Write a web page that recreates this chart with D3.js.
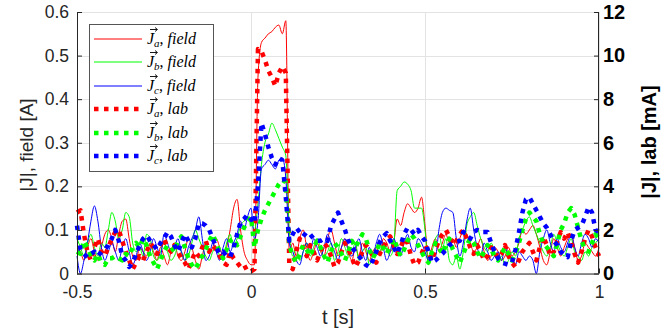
<!DOCTYPE html>
<html><head><meta charset="utf-8">
<script src="https://cdn.jsdelivr.net/npm/d3@7"></script>
<style>body{margin:0;background:#fff;} svg{display:block;font-family:"Liberation Sans",Arial,sans-serif;}</style>
</head><body><svg id="c" width="672" height="335"></svg>
<script>
const tStart = -0.5, tStep = 0.01;
const xTicks = [-0.5, 0, 0.5, 1];
const xTickLabels = ["-0.5", "0", "0.5", "1"];
const yLeftTicks = [0, 0.1, 0.2, 0.3, 0.4, 0.5, 0.6];
const yRightTicks = [0, 2, 4, 6, 8, 10, 12];
const seriesSubs = ["a", "b", "c", "a", "b", "c"];
const seriesKinds = ["field", "field", "field", "lab", "lab", "lab"];
// field currents [A]
const fieldA = [0.06,0.05,0.03,0.06,0.08,0.05,0.03,0.06,0.09,0.10,
0.08,0.05,0.09,0.12,0.125,0.08,0.04,0.03,0.06,0.05,
0.04,0.07,0.05,0.03,0.06,0.04,0.02,0.05,0.07,0.04,
0.03,0.05,0.08,0.06,0.03,0.01,0.04,0.07,0.05,0.06,
0.08,0.06,0.04,0.06,0.10,0.15,0.17,0.10,0.05,0.03,
0.02,0.02,0.45,0.53,0.54,0.55,0.555,0.565,0.57,0.55,
0.58,0.05,0.07,0.04,0.08,0.10,0.06,0.03,0.05,0.07,
0.05,0.04,0.08,0.10,0.07,0.04,0.06,0.08,0.05,0.03,
0.06,0.04,0.07,0.05,0.03,0.05,0.06,0.04,0.08,0.07,
0.05,0.07,0.125,0.11,0.14,0.16,0.15,0.14,0.15,0.175,
0.11,0.03,0.06,0.08,0.05,0.07,0.09,0.07,0.08,0.06,
0.08,0.10,0.09,0.07,0.05,0.06,0.08,0.05,0.03,0.04,
0.06,0.05,0.03,0.04,0.06,0.04,0.05,0.07,0.10,0.09,
0.10,0.11,0.09,0.06,0.03,0.02,0.05,0.08,0.06,0.04,
0.06,0.08,0.09,0.06,0.03,0.04,0.07,0.06,0.05,0.04,0.06];
const fieldB = [0.08,0.06,0.04,0.07,0.09,0.06,0.04,0.07,0.06,0.10,
0.14,0.12,0.08,0.10,0.14,0.13,0.07,0.05,0.06,0.04,
0.09,0.08,0.04,0.03,0.05,0.07,0.05,0.03,0.04,0.06,
0.05,0.03,0.04,0.07,0.10,0.08,0.06,0.04,0.03,0.05,
0.06,0.04,0.03,0.07,0.09,0.06,0.08,0.11,0.12,0.13,
0.12,0.10,0.16,0.25,0.30,0.32,0.345,0.33,0.31,0.29,
0.27,0.10,0.04,0.06,0.03,0.05,0.07,0.04,0.06,0.08,
0.06,0.04,0.05,0.07,0.03,0.05,0.08,0.06,0.04,0.05,
0.07,0.03,0.05,0.06,0.02,0.04,0.06,0.05,0.07,0.06,
0.04,0.06,0.19,0.20,0.21,0.205,0.19,0.15,0.15,0.15,
0.10,0.02,0.05,0.08,0.09,0.06,0.08,0.03,0.02,0.04,
0.01,0.05,0.11,0.13,0.14,0.11,0.08,0.06,0.05,0.07,
0.05,0.03,0.04,0.02,0.03,0.05,0.04,0.08,0.10,0.12,
0.13,0.11,0.09,0.07,0.05,0.04,0.06,0.09,0.07,0.05,
0.04,0.06,0.08,0.05,0.04,0.03,0.05,0.04,0.06,0.07,0.08];
const fieldC = [0.04,0.00,0.03,0.07,0.12,0.155,0.12,0.06,0.03,0.05,
0.07,0.05,0.03,0.06,0.08,0.05,0.02,0.04,0.07,0.05,
0.03,0.05,0.08,0.06,0.04,0.09,0.07,0.05,0.06,0.08,
0.05,0.03,0.06,0.08,0.10,0.13,0.08,0.03,0.04,0.07,
0.05,0.03,0.06,0.08,0.05,0.07,0.09,0.12,0.10,0.13,
0.15,0.08,0.12,0.24,0.25,0.26,0.25,0.24,0.26,0.265,
0.22,0.07,0.05,0.03,0.02,0.05,0.07,0.05,0.08,0.06,
0.04,0.06,0.09,0.07,0.05,0.03,0.06,0.08,0.05,0.04,
0.06,0.08,0.05,0.03,0.06,0.04,0.07,0.09,0.06,0.03,
0.05,0.08,0.06,0.04,0.07,0.09,0.06,0.05,0.08,0.07,
0.05,0.03,0.04,0.04,0.10,0.14,0.15,0.145,0.14,0.08,
0.04,0.07,0.12,0.15,0.10,0.06,0.04,0.07,0.05,0.03,
0.04,0.05,0.03,0.06,0.04,0.03,0.02,0.05,0.04,0.03,
0.04,0.03,0.00,0.05,0.08,0.10,0.07,0.05,0.08,0.06,
0.05,0.07,0.09,0.06,0.04,0.07,0.09,0.08,0.06,0.08,0.07];
// lab currents [mA]
const labA = [2.8,2.9,1.8,1.0,0.6,1.2,1.6,1.0,0.8,1.2,
1.6,1.9,2.0,1.5,1.0,0.6,0.2,0.5,0.8,0.6,
1.0,1.4,1.2,0.9,1.3,1.6,1.2,1.0,1.3,1.0,
0.7,0.5,0.2,0.6,1.0,0.8,1.2,1.5,1.0,1.3,
1.1,0.8,0.5,0.4,1.0,0.7,0.5,0.3,0.4,0.1,
0.1,0.2,10.3,10.2,9.8,9.3,9.0,8.6,9.2,9.5,
9.2,0.4,0.2,1.0,1.6,1.2,0.8,1.3,1.0,0.6,
1.0,1.4,1.2,0.8,0.3,0.5,1.0,1.4,1.1,0.7,
0.3,0.6,1.0,1.3,1.1,0.8,0.5,0.9,1.2,1.5,
1.7,1.3,0.9,1.2,1.6,1.4,0.8,0.4,0.5,0.9,
1.3,1.0,0.6,1.1,1.5,1.8,2.0,1.7,1.3,1.5,
1.8,2.0,1.6,1.2,0.9,1.3,1.0,0.6,0.8,1.2,
1.0,0.7,0.9,1.3,0.8,0.5,0.3,0.6,1.0,1.2,
1.4,1.0,0.6,1.2,1.7,1.3,0.8,1.0,1.5,1.9,
1.6,1.9,1.4,0.9,0.5,1.0,1.6,2.0,1.7,1.2,0.8];
const labB = [1.0,0.9,1.5,1.2,0.8,0.6,0.9,0.5,0.4,0.7,
0.7,0.8,0.7,0.6,0.9,0.8,1.2,1.4,1.2,1.6,
1.3,0.8,0.5,0.2,0.6,1.0,1.3,1.2,1.0,1.5,
1.7,1.2,0.7,0.4,0.2,0.5,0.8,1.1,1.5,1.8,
1.4,1.0,0.7,1.1,1.5,1.6,1.3,1.7,2.1,2.4,
2.6,1.2,2.0,2.5,2.9,3.2,3.5,3.8,4.1,4.3,
4.2,1.3,0.8,0.5,0.9,1.3,1.1,0.8,1.2,1.5,
1.2,0.8,0.5,1.0,1.4,1.2,0.9,0.6,1.0,1.5,
1.2,1.5,1.8,1.6,1.1,0.7,1.0,1.4,1.2,0.9,
1.3,1.6,1.2,0.8,1.1,1.5,1.8,1.6,1.3,1.0,
0.7,0.5,1.0,1.4,1.2,0.9,1.3,1.6,1.1,0.8,
0.5,0.9,1.3,1.6,1.4,1.0,0.7,1.0,1.3,1.1,
0.8,0.6,0.9,1.2,0.9,0.6,0.9,1.4,2.0,2.5,
2.8,2.6,2.4,1.8,1.4,1.2,1.0,0.8,1.4,2.0,
2.3,2.8,3.0,2.7,2.1,1.5,1.1,1.0,1.4,1.8,1.6];
const labC = [2.2,1.1,0.9,0.75,0.9,1.0,0.8,1.0,1.1,1.3,
1.6,2.0,1.5,0.8,0.6,0.3,0.5,0.9,1.3,1.6,
1.75,1.5,1.3,1.1,1.4,1.6,1.9,1.7,1.3,1.0,
1.4,1.8,1.5,1.2,1.6,2.3,2.3,2.2,2.0,1.6,
1.2,0.9,1.0,0.8,0.75,1.2,1.8,2.35,2.5,2.7,
2.5,2.3,4.0,6.9,6.4,5.8,5.3,5.0,5.3,5.2,
3.5,1.5,1.8,2.1,1.9,1.7,1.9,1.8,1.6,1.5,
1.5,1.6,1.5,2.2,2.5,2.8,2.4,2.0,1.5,1.2,
1.0,0.8,0.6,0.4,0.3,0.6,1.0,1.45,1.7,1.85,
1.5,1.2,0.9,1.3,1.8,2.1,2.0,1.8,2.0,1.7,
1.5,1.0,0.5,0.6,0.75,0.9,1.1,1.3,1.4,1.45,
1.5,1.9,1.8,1.6,1.9,2.0,1.9,1.9,1.9,1.4,
1.0,0.7,0.5,0.45,0.4,0.5,1.1,1.9,2.8,3.4,
3.5,3.2,2.9,2.6,2.3,2.1,1.8,1.5,1.3,1.0,
0.8,0.75,1.5,2.0,2.1,2.2,2.6,3.05,2.8,2.0,1.9];
const colors = ["#ff0000", "#00ff00", "#0000ff", "#ff0000", "#00ff00", "#0000ff"];

const svg = d3.select("#c");
const L = 77, R = 599, T = 12, B = 273.5;
const x = d3.scaleLinear().domain([-0.5, 1]).range([L, R]);
const yL = d3.scaleLinear().domain([0, 0.6]).range([B, T]);
const yR = d3.scaleLinear().domain([0, 12]).range([B, T]);
const axisCol = "#262626";

// grid
const grid = svg.append("g").attr("stroke", "#e3e3e3").attr("stroke-width", 1);
yLeftTicks.forEach(v => grid.append("line").attr("x1", L).attr("x2", R).attr("y1", Math.round(yL(v)) + 0.5).attr("y2", Math.round(yL(v)) + 0.5));
xTicks.forEach(v => grid.append("line").attr("y1", T).attr("y2", B).attr("x1", Math.round(x(v)) + 0.5).attr("x2", Math.round(x(v)) + 0.5));

const allSeries = [fieldA, fieldB, fieldC, labA, labB, labC];
const plot = svg.append("g");
allSeries.forEach((vals, i) => {
  const isLab = seriesKinds[i] === "lab";
  const yS = isLab ? yR : yL;
  const line = d3.line()
    .x((d, j) => x(tStart + j * tStep))
    .y(d => yS(d))
    .curve(isLab ? d3.curveLinear : d3.curveMonotoneX);
  plot.append("path").datum(vals)
    .attr("d", line)
    .attr("fill", "none")
    .attr("stroke", colors[i])
    .attr("stroke-width", isLab ? 4.5 : 1)
    .attr("stroke-dasharray", isLab ? "4.5,5.5" : null)
    .attr("stroke-linejoin", "round");
});

// axes
const gL = svg.append("g").attr("transform", `translate(${L},0)`)
  .call(d3.axisLeft(yL).tickValues(yLeftTicks).tickSize(-5).tickPadding(8).tickFormat(d => d === 0 ? "0" : d3.format(".1f")(d)));
const gR = svg.append("g").attr("transform", `translate(${R},0)`)
  .call(d3.axisRight(yR).tickValues(yRightTicks).tickSize(-5).tickPadding(4));
const gB = svg.append("g").attr("transform", `translate(0,${B})`)
  .call(d3.axisBottom(x).tickValues(xTicks).tickSize(-5).tickPadding(12).tickFormat((d, i) => xTickLabels[i]));
[gL, gR, gB].forEach(g => {
  g.selectAll("path.domain").attr("stroke", axisCol).attr("stroke-width", 1);
  g.selectAll(".tick line").attr("stroke", axisCol);
  g.selectAll("text").attr("fill", axisCol).attr("font-size", 17.5).attr("font-family", "Liberation Sans, Arial, sans-serif");
});
gR.selectAll("text").attr("font-weight", "bold").attr("fill", "#000").attr("font-size", 20);
gL.select("path.domain").attr("d", `M0.5,${B}V${T}`);
gR.select("path.domain").attr("d", `M-0.5,${B}V${T}`);
gB.select("path.domain").attr("d", `M${L},0.5H${R}`);

// labels
svg.append("text").attr("x", 338).attr("y", 324).attr("text-anchor", "middle")
  .attr("font-size", 20).attr("fill", axisCol).text("t [s]");
svg.append("text").attr("transform", `translate(33,145) rotate(-90)`).attr("text-anchor", "middle")
  .attr("font-size", 19).attr("fill", axisCol).text("|J|, field [A]");
svg.append("text").attr("transform", `translate(656,142) rotate(-90)`).attr("text-anchor", "middle")
  .attr("font-size", 20).attr("font-weight", "bold").attr("fill", "#000").text("|J|, lab [mA]");

// legend
const lg = svg.append("g");
lg.append("rect").attr("x", 89.5).attr("y", 24.5).attr("width", 124).attr("height", 147)
  .attr("fill", "#fff").attr("stroke", "#555").attr("stroke-width", 1);
const rowY = d3.scaleLinear().domain([0, 5]).range([39, 156]);
seriesKinds.forEach((kind, i) => {
  const yy = Math.round(rowY(i));
  const isLab = kind === "lab";
  lg.append("line").attr("x1", 94).attr("x2", 142).attr("y1", yy).attr("y2", yy)
    .attr("stroke", colors[i]).attr("stroke-width", isLab ? 4.5 : 1)
    .attr("stroke-dasharray", isLab ? "4.5,5.5" : null);
  const tx = 147, by = yy + 5;
  const t = lg.append("text").attr("x", tx).attr("y", by)
    .attr("font-family", "Liberation Serif, Times New Roman, serif").attr("font-style", "italic")
    .attr("font-size", 16).attr("fill", "#000");
  t.append("tspan").text("J");
  t.append("tspan").attr("font-size", 11).attr("dy", 3).text(seriesSubs[i]);
  t.append("tspan").attr("dy", -3).attr("font-style", "normal").text(", ");
  t.append("tspan").text(kind);
  lg.append("path").attr("d", `M${tx + 3},${by - 14.5}H${tx + 10}M${tx + 8},${by - 16.5}L${tx + 10.5},${by - 14.5}L${tx + 8},${by - 12.5}`)
    .attr("stroke", "#000").attr("stroke-width", 0.9).attr("fill", "none");
});
</script></body></html>
